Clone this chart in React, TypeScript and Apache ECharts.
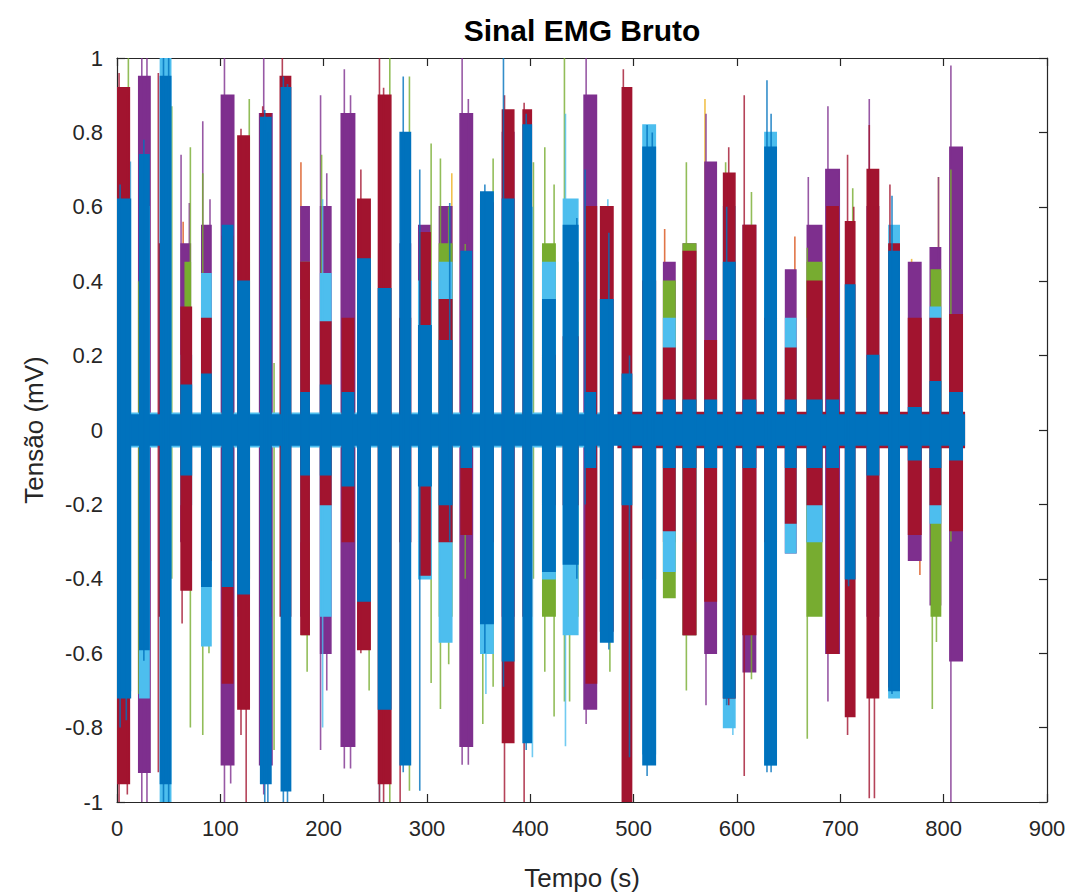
import React, { useEffect, useRef } from "react";
import * as echarts from "echarts";

// ---- Data ----
// Bodies: [tStart, tEnd, high, low] ; Spikes: [t, high, low]
const blueBursts: number[][] = [
  [0, 820, 0.04, -0.04],
  [0, 13, 0.62, -0.72], [22, 31, 0.74, -0.59], [42, 52, 0.95, -0.95], [62, 72, 0.12, -0.12],
  [82, 91, 0.15, -0.42], [102, 112, 0.55, -0.42], [117, 128, 0.4, -0.44], [139, 149, 0.84, -0.95],
  [159, 168, 0.92, -0.97], [178, 186, 0.1, -0.12], [197, 207, 0.12, -0.12], [218, 229, 0.1, -0.15],
  [233, 245, 0.46, -0.46], [253, 265, 0.38, -0.75], [274, 284, 0.8, -0.9], [292, 304, 0.28, -0.15],
  [312, 324, 0.24, -0.2], [333, 343, 0.48, -0.1], [352, 364, 0.64, -0.52], [373, 384, 0.62, -0.62],
  [393, 401, 0.82, -0.84], [412, 424, 0.35, -0.38], [432, 446, 0.55, -0.36], [453, 463, 0.1, -0.1],
  [468, 480, 0.35, -0.57], [489, 498, 0.15, -0.2], [509, 521, 0.76, -0.9], [529, 540, 0.08, -0.1],
  [548, 560, 0.08, -0.1], [569, 580, 0.08, -0.1], [587, 598, 0.45, -0.72], [606, 618, 0.08, -0.1],
  [627, 638, 0.76, -0.9], [647, 657, 0.08, -0.1], [668, 682, 0.08, -0.1], [687, 698, 0.08, -0.1],
  [705, 714, 0.39, -0.4], [726, 737, 0.2, -0.12], [747, 757, 0.48, -0.7], [766, 778, 0.06, -0.08],
  [787, 797, 0.13, -0.1], [806, 818, 0.1, -0.08],
];
const blueSpikes: number[][] = [
  [3, 0.66, -0.8], [9, 0.5, -0.78], [26, 0.78, -0.62], [45, 1.0, -1.0], [50, 1.0, -1.0],
  [143, 0.86, -1.0], [146, 0.8, -1.0], [161, 0.95, -1.0], [165, 0.93, -1.0], [277, 0.95, -0.92],
  [293, 0.7, -0.97], [322, 0.61, -0.3], [356, 0.66, -0.6], [374, 1.0, -0.69], [396, 0.85, -0.86],
  [445, 0.57, -0.4], [453, 0.7, -0.2], [476, 0.53, -0.59], [496, 0.2, -0.88], [513, 0.82, -0.93],
  [518, 0.8, -0.9], [590, 0.6, -0.74], [629, 0.94, -0.92], [633, 0.85, -0.92], [708, 0.39, -0.42],
  [750, 0.63, -0.71],
];
const redBursts: number[][] = [
  [485, 820, 0.047, -0.047],
  [0, 12, 0.92, -0.95], [22, 30, 0.3, -0.3], [41, 46, 0.5, -0.5], [62, 72, 0.33, -0.43],
  [82, 91, 0.3, -0.35], [102, 112, 0.52, -0.68], [117, 128, 0.79, -0.75], [139, 149, 0.85, -0.5],
  [158, 168, 0.95, -0.5], [178, 186, 0.45, -0.55], [197, 207, 0.29, -0.2], [218, 229, 0.3, -0.3],
  [233, 245, 0.62, -0.59], [253, 265, 0.9, -0.95], [274, 284, 0.3, -0.3], [293, 303, 0.53, -0.39],
  [312, 324, 0.35, -0.3], [333, 343, 0.32, -0.28], [352, 364, 0.61, -0.3], [373, 384, 0.86, -0.84],
  [393, 401, 0.86, -0.5], [412, 424, 0.2, -0.2], [432, 446, 0.25, -0.2], [454, 464, 0.6, -0.68],
  [468, 480, 0.6, -0.54], [489, 498, 0.92, -1.0], [509, 521, 0.4, -0.4], [529, 540, 0.22, -0.27],
  [548, 560, 0.48, -0.55], [569, 580, 0.24, -0.46], [587, 598, 0.69, -0.72], [606, 618, 0.55, -0.55],
  [627, 638, 0.3, -0.3], [647, 657, 0.22, -0.25], [668, 682, 0.4, -0.2], [687, 698, 0.6, -0.6],
  [705, 714, 0.56, -0.77], [726, 737, 0.7, -0.72], [747, 757, 0.5, -0.69], [766, 778, 0.3, -0.28],
  [787, 797, 0.3, -0.2], [806, 818, 0.31, -0.27],
];
const redSpikes: number[][] = [
  [2, 0.96, -1.0], [10, 0.9, -0.98], [40, 0.96, -0.92], [63, 0.3, -0.52], [120, 0.81, -0.82],
  [125, 0.79, -1.0], [141, 0.87, -0.6], [160, 1.0, -0.6], [236, 0.7, -0.6], [254, 1.0, -1.0],
  [258, 0.92, -1.0], [274, 0.3, -1.0], [375, 0.9, -1.0], [394, 0.88, -1.0], [490, 0.97, -1.0],
  [592, 0.76, -0.74], [607, 0.9, -0.93], [707, 0.74, -0.82], [713, 0.6, -0.77], [728, 0.82, -0.99],
  [733, 0.6, -0.99], [748, 0.66, -0.69],
];
const purpleBursts: number[][] = [
  [21, 32, 0.95, -0.92], [62, 71, 0.5, -0.3], [82, 91, 0.55, -0.4], [101, 113, 0.9, -0.9],
  [138, 150, 0.85, -0.9], [178, 186, 0.6, -0.5], [197, 207, 0.6, -0.6], [217, 230, 0.85, -0.85],
  [274, 284, 0.5, -0.3], [292, 303, 0.55, -0.3], [312, 324, 0.6, -0.3], [332, 344, 0.85, -0.85],
  [373, 384, 0.8, -0.5], [452, 464, 0.9, -0.75], [529, 540, 0.45, -0.3], [548, 560, 0.5, -0.55],
  [569, 580, 0.72, -0.6], [606, 618, 0.55, -0.65], [647, 657, 0.43, -0.33], [668, 682, 0.55, -0.3],
  [686, 699, 0.7, -0.6], [726, 737, 0.6, -0.5], [766, 778, 0.45, -0.35], [787, 797, 0.49, -0.47],
  [806, 818, 0.76, -0.62],
];
const purpleSpikes: number[][] = [
  [24, 1.0, -1.0], [29, 1.0, -1.0], [62, 0.74, -0.3], [70, 0.61, -0.3], [83, 0.83, -0.4],
  [90, 0.62, -0.4], [104, 1.0, -1.0], [110, 0.9, -0.95], [142, 1.0, -0.98], [197, 0.9, -0.86],
  [203, 0.69, -0.7], [220, 0.97, -0.91], [226, 0.9, -0.91], [334, 1.0, -0.9], [340, 0.89, -0.9],
  [454, 1.0, -0.79], [570, 0.85, -0.74], [669, 0.68, -0.3], [688, 0.87, -0.73], [728, 0.89, -0.5],
  [795, 0.68, -0.47], [807, 0.98, -1.0],
];
const greenBursts: number[][] = [
  [66, 71, 0.45, -0.4], [179, 186, 0.45, -0.55], [312, 324, 0.5, -0.5], [412, 424, 0.5, -0.5],
  [434, 446, 0.45, -0.5], [529, 540, 0.4, -0.45], [548, 560, 0.5, -0.55], [668, 682, 0.45, -0.5],
  [788, 797, 0.43, -0.5],
];
const greenSpikes: number[][] = [
  [11, 1.0, -0.3], [21, 0.4, -0.71], [30, 0.71, -0.4], [53, 0.87, -0.4], [71, 0.76, -0.8],
  [83, 0.69, -0.82], [89, 0.4, -0.6], [128, 0.89, -0.4], [152, 0.18, -0.86], [167, 0.62, -0.3],
  [184, 0.45, -0.65], [198, 0.74, -0.5], [244, 0.3, -0.7], [264, 1.0, -1.0], [283, 0.95, -0.97],
  [304, 0.77, -0.68], [313, 0.73, -0.75], [321, 0.6, -0.63], [337, 0.5, -0.4], [354, 0.5, -0.79],
  [364, 0.73, -0.69], [383, 0.77, -0.82], [403, 0.72, -0.4], [414, 0.76, -0.65], [423, 0.66, -0.77],
  [433, 1.0, -0.73], [438, 0.57, -0.73], [477, 0.3, -0.65], [551, 0.72, -0.7], [589, 0.72, -0.4],
  [592, 0.4, -0.79], [614, 0.64, -0.67], [668, 0.49, -0.83], [712, 0.65, -0.4], [789, 0.43, -0.75],
  [793, 0.4, -0.57], [807, 0.7, -0.3],
];
const lightBlueBursts: number[][] = [
  [0, 480, 0.045, -0.045],
  [0, 13, 0.72, -0.7], [22, 31, 0.6, -0.72], [42, 52, 1.0, -1.0], [62, 72, 0.2, -0.2],
  [82, 91, 0.42, -0.58], [117, 128, 0.45, -0.5], [178, 186, 0.35, -0.3], [197, 207, 0.42, -0.5],
  [292, 304, 0.4, -0.4], [312, 324, 0.45, -0.57], [352, 364, 0.6, -0.6], [412, 424, 0.45, -0.4],
  [432, 446, 0.62, -0.55], [509, 521, 0.82, -0.87], [529, 540, 0.3, -0.38], [548, 560, 0.4, -0.3],
  [587, 598, 0.6, -0.8], [627, 638, 0.8, -0.9], [647, 657, 0.3, -0.33], [668, 682, 0.3, -0.3],
  [747, 757, 0.55, -0.72], [787, 797, 0.33, -0.25],
];
const lightBlueSpikes: number[][] = [
  [199, 0.62, -0.8], [237, 0.4, -0.59], [254, 0.4, -1.0], [280, 0.6, -0.7], [357, 0.6, -0.71],
  [402, 0.6, -0.88], [434, 0.85, -0.85], [475, 0.62, -0.4], [596, 0.6, -0.82], [654, 0.3, -0.33],
];
const orangeSpikes: number[][] = [
  [64, 0.56, -0.3], [178, 0.72, -0.3], [530, 0.54, -0.2], [656, 0.52, -0.2], [680, 0.48, -0.2],
  [777, 0.3, -0.39],
];
const yellowSpikes: number[][] = [
  [324, 0.69, -0.2], [569, 0.89, -0.2], [769, 0.46, -0.2], [795, 0.68, -0.2], [817, 0.68, -0.2],
];

const xTicks = { min: 0, max: 900, step: 100 };
const yTicks = { min: -1, max: 1, step: 0.2 };

const C = {
  blue: "#0072BD",
  orange: "#D95319",
  yellow: "#EDB120",
  purple: "#7E2F8E",
  green: "#77AC30",
  lightBlue: "#4DBEEE",
  red: "#A2142F",
};

const FONT = "'Liberation Sans', Arial, Helvetica, sans-serif";
const AXIS = "#262626";

function bodySeries(data: number[][], color: string) {
  return {
    type: "custom",
    data,
    clip: true,
    encode: { x: [0, 1], y: [2, 3] },
    silent: true,
    renderItem: (_p: any, api: any) => {
      const a = api.coord([api.value(0), api.value(2)]);
      const b = api.coord([api.value(1), api.value(3)]);
      return {
        type: "rect",
        shape: { x: a[0], y: a[1], width: Math.max(1, b[0] - a[0]), height: b[1] - a[1] },
        style: { fill: color, stroke: color, lineWidth: 1.5 },
      };
    },
  };
}

function spikeSeries(data: number[][], color: string) {
  return {
    type: "custom",
    data,
    clip: true,
    encode: { x: 0, y: [1, 2] },
    silent: true,
    renderItem: (_p: any, api: any) => {
      const a = api.coord([api.value(0), api.value(1)]);
      const b = api.coord([api.value(0), api.value(2)]);
      return {
        type: "line",
        shape: { x1: a[0], y1: a[1], x2: b[0], y2: b[1] },
        style: { stroke: color, lineWidth: 1.6, opacity: 0.8 },
      };
    },
  };
}

export default function App() {
  const ref = useRef<HTMLDivElement>(null);
  useEffect(() => {
    if (!ref.current) return;
    const chart = echarts.init(ref.current, undefined, { renderer: "svg" });
    const baseX = {
      type: "value",
      min: xTicks.min,
      max: xTicks.max,
      interval: xTicks.step,
      splitLine: { show: false },
      axisLine: { show: true, onZero: false, lineStyle: { color: AXIS, width: 1.2 } },
      axisTick: { show: true, inside: true, length: 8, lineStyle: { color: AXIS, width: 1.2 } },
    };
    const baseY = {
      type: "value",
      min: yTicks.min,
      max: yTicks.max,
      interval: yTicks.step,
      splitLine: { show: false },
      axisLine: { show: true, onZero: false, lineStyle: { color: AXIS, width: 1.2 } },
      axisTick: { show: true, inside: true, length: 8, lineStyle: { color: AXIS, width: 1.2 } },
    };
    chart.setOption({
      animation: false,
      backgroundColor: "#ffffff",
      grid: { left: 117, top: 58, width: 930, height: 745, containLabel: false },
      graphic: [
        {
          type: "text",
          x: 582,
          y: 30,
          style: {
            text: "Sinal EMG Bruto",
            fontFamily: FONT,
            fontSize: 30,
            fontWeight: "bold",
            fill: "#000000",
            textAlign: "center",
            textVerticalAlign: "middle",
          },
        },
      ],
      xAxis: [
        {
          ...baseX,
          position: "bottom",
          name: "Tempo (s)",
          nameLocation: "middle",
          nameGap: 63,
          nameTextStyle: { fontFamily: FONT, fontSize: 26, color: AXIS },
          axisLabel: { show: true, fontFamily: FONT, fontSize: 22, color: AXIS, margin: 15 },
        },
        { ...baseX, position: "top", axisLabel: { show: false } },
      ],
      yAxis: [
        {
          ...baseY,
          position: "left",
          name: "Tensão (mV)",
          nameLocation: "middle",
          nameRotate: 90,
          nameGap: 70,
          nameTextStyle: { fontFamily: FONT, fontSize: 26, color: AXIS },
          axisLabel: { show: true, fontFamily: FONT, fontSize: 22, color: AXIS, margin: 14 },
        },
        { ...baseY, position: "right", axisLabel: { show: false } },
      ],
      series: [
        spikeSeries(orangeSpikes, C.orange),
        spikeSeries(yellowSpikes, C.yellow),
        bodySeries(purpleBursts, C.purple),
        spikeSeries(purpleSpikes, C.purple),
        bodySeries(greenBursts, C.green),
        spikeSeries(greenSpikes, C.green),
        bodySeries(lightBlueBursts, C.lightBlue),
        spikeSeries(lightBlueSpikes, C.lightBlue),
        bodySeries(redBursts, C.red),
        spikeSeries(redSpikes, C.red),
        bodySeries(blueBursts, C.blue),
        spikeSeries(blueSpikes, C.blue),
      ],
    });
    return () => chart.dispose();
  }, []);
  return (
    <div
      ref={ref}
      style={{ position: "absolute", left: 0, top: 0, width: 1077, height: 896, background: "#fff" }}
    />
  );
}
